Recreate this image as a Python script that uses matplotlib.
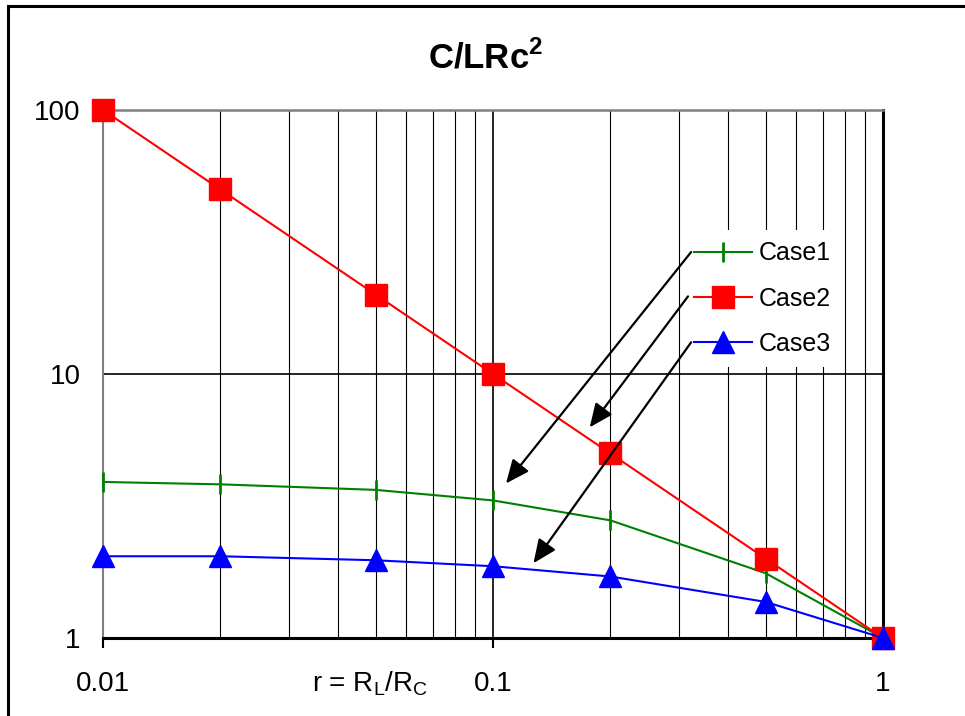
import matplotlib
matplotlib.use('Agg')
import matplotlib.pyplot as plt
from matplotlib.patches import Rectangle
from matplotlib.ticker import LogLocator, NullLocator, FixedLocator

plt.rcParams['font.family'] = ['Liberation Sans', 'DejaVu Sans']
plt.rcParams['mathtext.fontset'] = 'custom'
plt.rcParams['mathtext.rm'] = 'Liberation Sans'
plt.rcParams['mathtext.bf'] = 'Liberation Sans:bold'

# r = RL/RC
r = [0.01, 0.02, 0.05, 0.1, 0.2, 0.5, 1]
case1 = [3.90, 3.82, 3.64, 3.32, 2.79, 1.76, 1.0]
case2 = [100, 50, 20, 10, 5, 2, 1]
case3 = [2.04, 2.04, 1.97, 1.87, 1.71, 1.37, 1.0]

x_ticks = [0.01, 0.1, 1]
x_ticklabels = ['0.01', '0.1', '1']
y_ticks = [1, 10, 100]
y_ticklabels = ['1', '10', '100']

# arrow tips (data) for Case1, Case2, Case3
arrow_tips = [(0.108, 3.85), (0.177, 6.28), (0.127, 1.92)]
arrow_tails = [(0.754, 0.731), (0.750, 0.647), (0.754, 0.560)]


def main():
    fig = plt.figure(figsize=(9.65, 7.16), dpi=100)
    ax = fig.add_axes([103 / 965, 1 - 638 / 716, 780 / 965, 528 / 716])

    ax.set_xscale('log')
    ax.set_yscale('log')
    ax.set_xlim(0.01, 1)
    ax.set_ylim(1, 100)

    ax.plot(r, case1, color='#008000', lw=1.5, marker='|', markersize=15,
            mew=2, label='Case1', zorder=3, clip_on=False)
    ax.plot(r, case2, color='#ff0000', lw=1.5, marker='s', markersize=16,
            label='Case2', zorder=3, clip_on=False)
    ax.plot(r, case3, color='#0000ff', lw=1.5, marker='^', markersize=16,
            label='Case3', zorder=3, clip_on=False)

    ax.xaxis.set_major_locator(FixedLocator(x_ticks))
    ax.set_xticklabels(x_ticklabels)
    ax.xaxis.set_minor_locator(LogLocator(base=10, subs=range(2, 10)))
    ax.yaxis.set_major_locator(FixedLocator(y_ticks))
    ax.set_yticklabels(y_ticklabels)
    ax.yaxis.set_minor_locator(NullLocator())

    ax.set_axisbelow(True)
    ax.grid(which='major', axis='both', color='black', lw=1.2)
    ax.grid(which='minor', axis='x', color='black', lw=0.8)

    ax.tick_params(axis='x', which='major', direction='out', length=7,
                   width=1.5, pad=17, labelsize=20)
    ax.tick_params(axis='y', which='major', length=0, pad=16, labelsize=20)
    ax.tick_params(which='minor', length=0)

    ax.spines['left'].set_color('#808080')
    ax.spines['left'].set_linewidth(1.5)
    ax.spines['top'].set_color('#808080')
    ax.spines['top'].set_linewidth(1.8)
    ax.spines['bottom'].set_color('black')
    ax.spines['bottom'].set_linewidth(2.2)
    ax.spines['right'].set_color('black')
    ax.spines['right'].set_linewidth(2.2)

    ax.text(0.49, 1 + 52 / 528, r'C/LRc$^{\mathbf{2}}$', transform=ax.transAxes,
            ha='center', va='center', fontsize=25, fontweight='bold')
    ax.text(0.342, -46 / 528, r'r = R$_\mathregular{L}$/R$_\mathregular{C}$',
            transform=ax.transAxes, ha='center', va='center', fontsize=20)

    leg = ax.legend(loc='upper left', bbox_to_anchor=(683 / 965, 1 - 230 / 716),
                    bbox_transform=fig.transFigure, fontsize=18, frameon=True,
                    fancybox=False, edgecolor='none', facecolor='white',
                    framealpha=1, borderpad=0.45, borderaxespad=0,
                    handlelength=2.3, handletextpad=0.3, labelspacing=0.85)
    leg.set_zorder(5)

    for tip, tail in zip(arrow_tips, arrow_tails):
        ax.annotate('', xy=tip, xycoords='data', xytext=tail,
                    textcoords='axes fraction', zorder=6,
                    arrowprops=dict(arrowstyle='-|>,head_length=0.8,head_width=0.35',
                                    mutation_scale=18, lw=1.6, color='black',
                                    shrinkA=0, shrinkB=0))

    # chart area border (cropped on right/bottom)
    fig.add_artist(Rectangle((8 / 965, -0.5), 2, 0.5 + 1 - 6 / 716,
                             transform=fig.transFigure, fill=False,
                             lw=2.2, ec='black'))

    fig.savefig('out.png', dpi=100)


if __name__ == '__main__':
    main()
